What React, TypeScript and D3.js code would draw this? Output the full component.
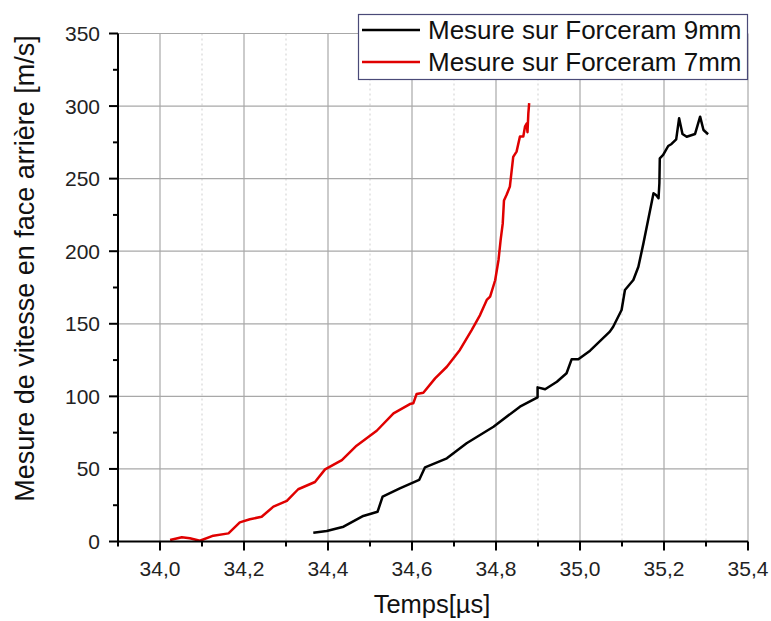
import React from "react";
import * as d3 from "d3";

const seriesNames = ["Mesure sur Forceram 9mm", "Mesure sur Forceram 7mm"];
const seriesColors = ["#000000", "#e00000"];

const t9 = [34.365, 34.397, 34.437, 34.484, 34.518, 34.53, 34.571, 34.617, 34.631, 34.683, 34.73, 34.794, 34.857, 34.899, 34.899, 34.917, 34.945, 34.968, 34.98, 34.996, 35.024, 35.071, 35.079, 35.099, 35.107, 35.115, 35.127, 35.139, 35.151, 35.167, 35.175, 35.181, 35.187, 35.189, 35.19, 35.198, 35.21, 35.218, 35.229, 35.236, 35.244, 35.254, 35.274, 35.286, 35.294, 35.305];
const v9 = [6, 7.2, 10.2, 17.6, 20.5, 30.9, 36.6, 42.4, 51.1, 57.3, 67.7, 79.1, 92.9, 99.3, 106.2, 104.9, 110.1, 115.9, 125.5, 125.5, 131.5, 144.6, 148, 159.5, 173.3, 176, 180.2, 189.3, 205.4, 228.4, 239.9, 238.7, 236.5, 246.8, 264, 266.3, 272.5, 273.9, 277.1, 291.6, 280.8, 278.9, 280.8, 292.7, 283.5, 280.6];

const t7 = [34.024, 34.052, 34.071, 34.095, 34.127, 34.163, 34.19, 34.214, 34.242, 34.27, 34.302, 34.329, 34.369, 34.393, 34.433, 34.468, 34.516, 34.556, 34.595, 34.603, 34.611, 34.627, 34.655, 34.683, 34.714, 34.742, 34.762, 34.778, 34.786, 34.798, 34.806, 34.811, 34.816, 34.819, 34.825, 34.833, 34.841, 34.849, 34.857, 34.865, 34.869, 34.873, 34.875, 34.877, 34.879];
const v7 = [1, 2.9, 2.2, 0.5, 4, 5.6, 13.2, 15.3, 17.1, 24, 28, 36, 41, 49.7, 56, 66, 76.3, 88.3, 94.7, 95.2, 101.6, 102.5, 112.4, 120.4, 132, 145.7, 156, 166.4, 168.7, 180, 194, 207.7, 219, 235, 238.7, 244.5, 265, 268.6, 279, 279, 285.8, 288, 282, 295, 302];

const xMajor = [34.0, 34.2, 34.4, 34.6, 34.8, 35.0, 35.2, 35.4];
const xMinor = [33.9, 34.1, 34.3, 34.5, 34.7, 34.9, 35.1, 35.3];
const yMajor = [0, 50, 100, 150, 200, 250, 300, 350];
const yMinor = [25, 75, 125, 175, 225, 275, 325];

const xTitle = "Temps[µs]";
const yTitle = "Mesure de vitesse en face arrière [m/s]";

export default function App() {
  const W = 771, H = 621;
  const x = d3.scaleLinear().domain([33.9, 35.4]).range([118, 748]);
  const y = d3.scaleLinear().domain([0, 350]).range([541.5, 33.5]);
  const line = d3.line<[number, number]>().x(d => x(d[0])).y(d => y(d[1]));
  const d9 = line(t9.map((t, i) => [t, v9[i]] as [number, number]))!;
  const d7 = line(t7.map((t, i) => [t, v7[i]] as [number, number]))!;
  const font = "Arial, 'Liberation Sans', sans-serif";
  const fmt = (v: number) => v.toFixed(1).replace(".", ",");
  return (
    <svg width={W} height={H} style={{ position: "absolute", left: 0, top: 0, background: "#fff" }} fontFamily={font}>
      {xMinor.slice(1).map(v => (
        <line key={"gm" + v} x1={x(v)} x2={x(v)} y1={y(350)} y2={y(0)} stroke="#cfcfcf" strokeWidth={1} strokeDasharray="2,3" />
      ))}
      {xMajor.map(v => (
        <line key={"gx" + v} x1={x(v)} x2={x(v)} y1={y(350)} y2={y(0)} stroke="#a8a8a8" strokeWidth={1.2} />
      ))}
      {yMajor.slice(1).map(v => (
        <line key={"gy" + v} x1={x(33.9)} x2={x(35.4)} y1={y(v)} y2={y(v)} stroke="#a8a8a8" strokeWidth={1.2} />
      ))}
      <path d={d9} fill="none" stroke={seriesColors[0]} strokeWidth={2.5} strokeLinejoin="round" />
      <path d={d7} fill="none" stroke={seriesColors[1]} strokeWidth={2.5} strokeLinejoin="round" />
      <line x1={x(33.9)} x2={x(35.4)} y1={y(0)} y2={y(0)} stroke="#000" strokeWidth={2} />
      <line x1={x(33.9)} x2={x(33.9)} y1={y(0)} y2={y(350)} stroke="#000" strokeWidth={2} />
      {xMajor.map(v => (
        <g key={"xt" + v}>
          <line x1={x(v)} x2={x(v)} y1={y(0)} y2={y(0) + 9} stroke="#000" strokeWidth={2} />
          <text x={x(v)} y={576} fontSize={21} textAnchor="middle" fill="#222">{fmt(v)}</text>
        </g>
      ))}
      {xMinor.map(v => (
        <line key={"xm" + v} x1={x(v)} x2={x(v)} y1={y(0)} y2={y(0) + 5} stroke="#000" strokeWidth={2} />
      ))}
      {yMajor.map(v => (
        <g key={"yt" + v}>
          <line x1={x(33.9) - 9} x2={x(33.9)} y1={y(v)} y2={y(v)} stroke="#000" strokeWidth={2} />
          <text x={100} y={y(v) + 7.5} fontSize={21} textAnchor="end" fill="#222">{v}</text>
        </g>
      ))}
      {yMinor.map(v => (
        <line key={"ym" + v} x1={x(33.9) - 5} x2={x(33.9)} y1={y(v)} y2={y(v)} stroke="#000" strokeWidth={2} />
      ))}
      <text x={432} y={613} fontSize={25.5} textAnchor="middle" fill="#111">{xTitle}</text>
      <text transform="translate(34,268.5) rotate(-90)" fontSize={27} textAnchor="middle" fill="#111">{yTitle}</text>
      <rect x={358.5} y={14.5} width={389} height={65} fill="#fff" stroke="#4a4a78" strokeWidth={1.2} />
      <line x1={362} x2={420} y1={30} y2={30} stroke={seriesColors[0]} strokeWidth={2.5} />
      <text x={428} y={39} fontSize={26} fill="#111">{seriesNames[0]}</text>
      <line x1={362} x2={420} y1={62} y2={62} stroke={seriesColors[1]} strokeWidth={2.5} />
      <text x={428} y={71} fontSize={26} fill="#111">{seriesNames[1]}</text>
    </svg>
  );
}
